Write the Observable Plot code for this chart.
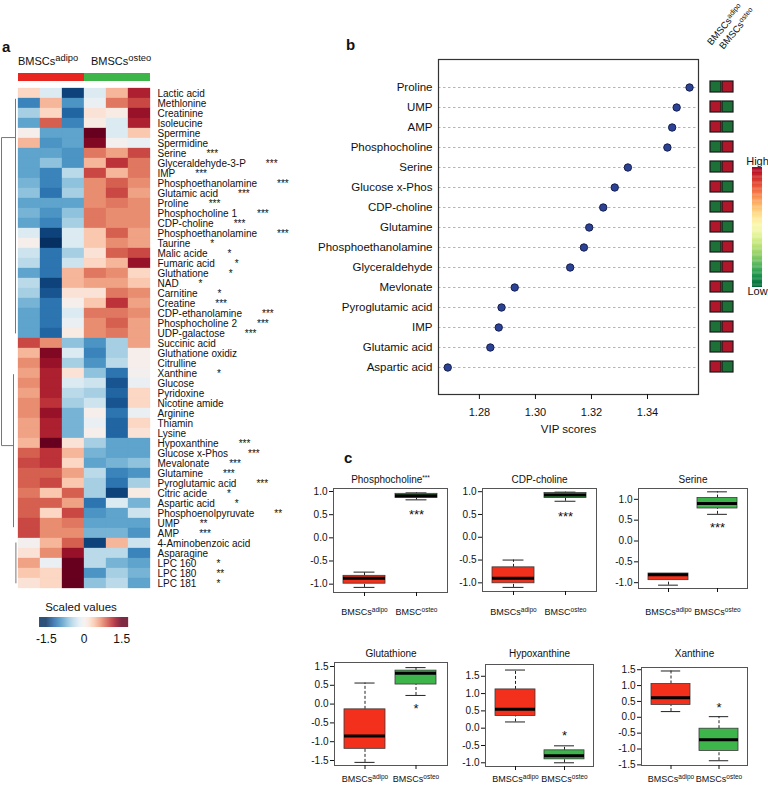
<!DOCTYPE html>
<html><head><meta charset="utf-8">
<script src="https://cdn.jsdelivr.net/npm/d3@7"></script>
<script src="https://cdn.jsdelivr.net/npm/@observablehq/plot@0.6"></script>
<style>
body{margin:0;background:#fff;font-family:"Liberation Sans",Arial,Helvetica,sans-serif;color:#111;}
#root{position:relative;width:768px;height:785px;overflow:hidden;background:#fff;}
svg{overflow:visible;background:transparent !important;}
.sup{font-size:0.85em;position:relative;top:-0.45em;line-height:0;}
.sup2{font-size:0.75em;position:relative;top:-0.45em;line-height:0;}
</style></head><body><div id="root"></div>
<script>
// ---------- DATA ----------
const metabolites = ["Lactic acid","Methlonine","Creatinine","Isoleucine","Spermine","Spermidine","Serine","Glyceraldehyde-3-P","IMP","Phosphoethanolamine","Glutamic acid","Proline","Phosphocholine 1","CDP-choline","Phosphoethanolamine","Taurine","Malic acide","Fumaric acid","Gluthatione","NAD","Carnitine","Creatine","CDP-ethanolamine","Phosphocholine 2","UDP-galactose","Succinic acid","Gluthatione oxidiz","Citrulline","Xanthine","Glucose","Pyridoxine","Nicotine amide","Arginine","Thiamin","Lysine","Hypoxanthine","Glucose x-Phos","Mevalonate","Glutamine","Pyroglutamic acid","Citric acide","Aspartic acid","Phosphoenolpyruvate","UMP","AMP","4-Aminobenzoic acid","Asparagine","LPC 160","LPC 180","LPC 181"];
const significance = ["","","","","","","***","***","***","***","***","***","***","***","***","*","*","*","*","*","*","***","***","***","***","","","","*","","","","","","","***","***","***","***","***","*","*","**","**","***","","","*","**","*"];
const sampleColumns = ["adipo 1","adipo 2","adipo 3","osteo 1","osteo 2","osteo 3"];
const sampleGroups = ["adipo","adipo","adipo","osteo","osteo","osteo"];
const adipo1 = [0.3,-1.0,-0.5,-0.8,0.05,0.5,-0.8,-0.8,-0.8,-0.7,-0.6,-0.8,-0.7,-0.8,-0.2,0.05,-0.3,-0.4,-0.8,-0.4,-0.5,-0.7,-0.8,-0.8,-0.8,1.0,0.5,0.7,0.6,0.7,0.6,0.7,0.7,0.6,0.6,0.5,0.9,1.0,0.9,0.9,0.8,0.9,0.9,1.0,1.0,0.0,0.2,0.6,0.4,0.2];
const adipo2 = [-0.2,0.5,0.3,0.9,-0.8,-0.9,-0.8,-0.6,-1.0,-1.0,-1.1,-0.8,-0.9,-1.0,-1.4,-1.5,-1.1,-1.1,-1.1,-1.4,-1.3,-1.1,-1.1,-1.1,-1.2,0.7,1.4,1.3,1.2,1.2,1.2,1.1,1.3,1.2,1.2,1.5,1.1,1.1,0.9,1.0,0.4,0.9,0.3,0.7,0.7,0.5,0.7,-0.1,0.3,0.3];
const adipo3 = [-1.4,-0.9,-1.2,-1.0,-0.8,-0.8,-0.9,-0.9,-0.4,-0.6,-0.5,-0.8,-0.6,-0.5,-0.2,-0.2,-0.5,-0.3,0.5,0.5,0.2,0.05,-0.2,-0.1,0.1,-0.6,-0.2,-0.5,0.2,-0.2,-0.4,-0.5,-0.7,-0.7,-0.7,0.2,0.5,0.3,0.6,0.4,0.9,0.6,1.0,0.8,0.7,0.9,1.3,1.5,1.5,1.5];
const osteo1 = [-0.2,-0.1,0.2,0.1,1.5,1.4,0.8,0.5,1.0,0.7,0.7,0.7,0.8,0.8,0.4,0.4,0.2,0.3,0.8,0.6,0.2,0.4,0.8,0.7,0.7,-0.9,-1.0,-0.9,-0.6,-0.3,-0.5,-0.3,0.05,-0.1,0.05,-0.5,-0.7,-0.8,-0.4,-0.5,-0.5,-1.1,-0.9,-0.8,-0.7,-1.4,-0.4,-0.4,-0.9,-0.6];
const osteo2 = [0.5,0.8,0.1,-0.2,-0.2,0.0,0.6,1.1,0.5,0.9,1.0,0.8,0.7,0.7,0.9,0.7,0.9,0.5,0.7,0.6,0.8,1.1,0.8,0.9,0.8,-0.5,-0.5,-0.4,-1.1,-1.3,-1.2,-1.3,-1.1,-1.2,-1.2,-0.8,-0.8,-0.7,-1.0,-1.1,-1.4,-0.2,-0.8,-0.8,-0.7,0.5,-0.4,-0.7,-0.5,-0.4];
const osteo3 = [1.2,1.0,1.3,1.2,0.4,-0.1,1.0,0.8,0.8,0.7,0.6,0.7,0.7,0.7,0.6,0.6,1.0,1.3,0.3,0.4,0.7,0.6,0.7,0.6,0.6,0.6,0.05,0.05,0.0,-0.1,0.3,0.3,-0.1,0.3,0.2,-0.8,-0.8,-0.6,-0.9,-0.5,0.1,-0.7,-0.3,-0.8,-0.9,-0.3,-1.0,-0.8,-0.7,-0.8];
// dendrogram segments: [height1, row1, height2, row2]
const dendrogramLinks = [[1,5.8,1,36],[1,5.8,0.125,5.8],[1,36,0.25,36],[0.125,2,0.125,25],[0.25,29,0.25,44],[0.1,45.5,0.1,49.5]];
const legendTicks = [-1.5, 0, 1.5];

const vipNames = ["Proline","UMP","AMP","Phosphocholine","Serine","Glucose x-Phos","CDP-choline","Glutamine","Phosphoethanolamine","Glyceraldehyde","Mevlonate","Pyroglutamic acid","IMP","Glutamic acid","Aspartic acid"];
const vipScores = [1.355,1.3504,1.3488,1.3471,1.333,1.3283,1.3242,1.3192,1.3173,1.3124,1.2926,1.2879,1.2869,1.2839,1.2687];
const vipAdipoLevel = ["Low","High","High","Low","Low","High","Low","High","Low","Low","High","High","Low","Low","High"];
const vipOsteoLevel = ["High","Low","Low","High","High","Low","High","Low","High","High","Low","Low","High","High","Low"];
const vipTicks = [1.28,1.30,1.32,1.34];

// box stats: [lower whisker, Q1, median, Q3, upper whisker]
const phosphocholineAdipo = [-1.07,-0.99,-0.87,-0.82,-0.74];
const phosphocholineOsteo = [0.82,0.86,0.91,0.95,0.97];
const cdpCholineAdipo = [-1.10,-1.01,-0.90,-0.66,-0.50];
const cdpCholineOsteo = [0.79,0.86,0.93,0.97,0.99];
const serineAdipo = [-1.06,-0.94,-0.81,-0.78,-0.78];
const serineOsteo = [0.64,0.78,0.90,1.03,1.18];
const glutathioneAdipo = [-1.55,-1.19,-0.85,-0.14,0.56];
const glutathioneOsteo = [0.23,0.52,0.82,0.89,0.97];
const hypoxanthineAdipo = [0.18,0.35,0.55,1.12,1.68];
const hypoxanthineOsteo = [-1.0,-0.9,-0.8,-0.64,-0.51];
const xanthineAdipo = [0.18,0.39,0.62,1.05,1.46];
const xanthineOsteo = [-1.37,-1.06,-0.71,-0.36,0.02];
const boxTicks = [-1,-0.5,0,0.5,1];
const hypoTicks = [-1,-0.5,0,0.5,1,1.5];
const xanthineTicks = [-1.5,-1,-0.5,0,0.5,1,1.5];
const glutathioneTicks = [1,0.5,0,-0.5,-1,-1.5];
const glutathioneTickLabels = ["1.5","0.5","0.0","-0.5","-1.0","-1.5"];

// ---------- HELPERS ----------
const FONT = "'Liberation Sans', Arial, Helvetica, sans-serif";
const root = document.getElementById("root");
function place(node, left, top){ node.style.position="absolute"; node.style.left=left+"px"; node.style.top=top+"px"; root.appendChild(node); return node; }
function html(str, left, top, css){ const d=document.createElement("div"); d.style.cssText=(css||"")+";white-space:nowrap;"; d.innerHTML=str; return place(d,left,top); }
function supify(svg, supSize){
  const ns="http://www.w3.org/2000/svg";
  svg.querySelectorAll("text").forEach(t=>{
    const targets = t.querySelectorAll("tspan").length ? Array.from(t.querySelectorAll("tspan")) : [t];
    targets.forEach(el=>{
      if (el.childElementCount) return;
      const s = el.textContent; if (!s.includes("^")) return;
      const [base, sup] = s.split("^");
      el.textContent = "";
      const a=document.createElementNS(ns,"tspan"); a.textContent=base;
      const b=document.createElementNS(ns,"tspan"); b.textContent=sup; b.setAttribute("dy","-0.45em"); b.setAttribute("font-size",supSize);
      el.append(a,b);
    });
  });
}
const baseStyle = (fs)=>({background:"transparent", fontFamily:FONT, fontSize:fs, color:"#111", overflow:"visible"});
const heatColor = {type:"linear", scheme:"RdBu", reverse:true, domain:[-1.5,1.5], clamp:true};

// ---------- PANEL A ----------
html("a", 2, 39, "font-size:15px;line-height:15px;font-weight:bold;");
html('BMSCs<span class="sup">adipo</span>', 18, 56, "font-size:11px;line-height:11px;");
html('BMSCs<span class="sup">osteo</span>', 91, 56, "font-size:11px;line-height:11px;");

place(Plot.plot({
  width:300, height:8, marginLeft:17, marginRight:150, marginTop:0, marginBottom:0,
  x:{type:"band", domain:sampleColumns, padding:0, axis:null},
  color:{domain:["adipo","osteo"], range:["#e8251f","#3db549"]},
  style:baseStyle("10px"),
  marks:[Plot.cell(sampleColumns.map((s,i)=>({sample:s, group:sampleGroups[i]})), {x:"sample", fill:"group", shapeRendering:"crispEdges"})]
}), 0, 73);

const heatColumns = [adipo1, adipo2, adipo3, osteo1, osteo2, osteo3];
const heatCells = [];
metabolites.forEach((name,i)=>sampleColumns.forEach((s,j)=>heatCells.push({row:i, sample:s, value:heatColumns[j][i]})));
const heatLabels = metabolites.map((name,i)=>({row:i, label: significance[i] ? name+"\u2003\u2003"+significance[i] : name}));

place(Plot.plot({
  width:300, height:520, marginLeft:17, marginRight:150, marginTop:3, marginBottom:7,
  x:{type:"band", domain:sampleColumns, padding:0, axis:null},
  y:{type:"band", domain:d3.range(metabolites.length), padding:0, axis:null},
  color:heatColor,
  style:baseStyle("10px"),
  marks:[
    Plot.cell(heatCells, {x:"sample", y:"row", fill:"value", stroke:"value", strokeWidth:0.3}),
    Plot.text(heatLabels, {y:"row", text:"label", frameAnchor:"right", dx:7, textAnchor:"start", fill:"#111"})
  ]
}), 0, 80);

place(Plot.plot({
  width:17, height:520, marginLeft:1, marginRight:0, marginTop:3, marginBottom:7,
  x:{domain:[1,0], axis:null},
  y:{domain:[0.5,50.5], reverse:true, axis:null},
  style:baseStyle("10px"),
  marks:[Plot.link(dendrogramLinks, {x1:d=>d[0], y1:d=>d[1], x2:d=>d[2], y2:d=>d[3], stroke:"#777", strokeWidth:1})]
}), 0, 80);

html("Scaled values", 0, 602, "width:162px;text-align:center;font-size:11.5px;line-height:11.5px;");
const ramp = d3.range(-1.77, 1.77, 0.02);
place(Plot.plot({
  width:170, height:40, marginLeft:39, marginRight:42, marginTop:5, marginBottom:25,
  x:{domain:[-1.77,1.77]},
  color:heatColor,
  style:baseStyle("12px"),
  marks:[
    Plot.rect(ramp, {x1:d=>d, x2:d=>d+0.025, fill:d=>d}),
    Plot.axisX(legendTicks, {tickSize:0, tickPadding:7, tickFormat:d=>d===0?"0":d.toFixed(1), fontSize:12, label:null})
  ]
}), 0, 612);

// ---------- PANEL B ----------
html("b", 346, 37, "font-size:15px;line-height:15px;font-weight:bold;");
const vipData = vipNames.map((n,i)=>({name:n, vip:vipScores[i]}));
place(Plot.plot({
  width:410, height:400, marginLeft:138, marginRight:12, marginTop:19, marginBottom:46,
  x:{domain:[1.2654,1.3582]},
  y:{type:"point", domain:vipNames, padding:1},
  style:baseStyle("11px"),
  marks:[
    Plot.ruleY(vipNames, {y:d=>d, stroke:"#b5b5b5", strokeDasharray:"2.5,2.5"}),
    Plot.dot(vipData, {x:"vip", y:"name", r:3.7, fill:"#2c4296", stroke:"#15204f", strokeWidth:1}),
    Plot.frame({stroke:"#333", strokeWidth:1.2}),
    Plot.axisX(vipTicks, {tickSize:5, tickPadding:9, tickFormat:d=>d.toFixed(2), fontSize:11, label:null}),
    Plot.axisY({tickSize:0, tickPadding:6, fontSize:11.5, label:null}),
    Plot.text(["VIP scores"], {frameAnchor:"bottom", dy:38, fontSize:11.5})
  ]
}), 300, 40);

const squares = vipNames.flatMap((n,i)=>[{name:n, group:"adipo", level:vipAdipoLevel[i]},{name:n, group:"osteo", level:vipOsteoLevel[i]}]);
place(Plot.plot({
  width:68, height:400, marginLeft:9, marginRight:35, marginTop:19, marginBottom:46,
  x:{type:"band", domain:["adipo","osteo"], paddingInner:0.1, paddingOuter:0, axis:null},
  y:{type:"band", domain:vipNames, paddingInner:0.47, paddingOuter:0.735, axis:null},
  color:{domain:["High","Low"], range:["#b0172b","#1d7038"]},
  style:baseStyle("10px"),
  marks:[Plot.cell(squares, {x:"group", y:"name", fill:"level", stroke:"#1a1a1a", strokeWidth:1.2})]
}), 700, 40);

html('BMSCs<span class="sup2">adipo</span>', 713, 37, "font-size:9.5px;line-height:10px;transform:rotate(-50deg);transform-origin:0 100%;");
html('BMSCs<span class="sup2">osteo</span>', 725, 41, "font-size:9.5px;line-height:10px;transform:rotate(-50deg);transform-origin:0 100%;");

const gradStops = d3.range(0, 1.0001, 0.01);
place(Plot.plot({
  width:24, height:150, marginLeft:7, marginRight:7, marginTop:17, marginBottom:13,
  y:{domain:[0,1], axis:null},
  color:{type:"linear", scheme:"RdYlGn", domain:[0,1], reverse:true},
  style:baseStyle("11px"),
  marks:[
    Plot.rect(gradStops, {y1:d=>d, y2:d=>Math.min(1,d+0.012), fill:d=>d}),
    Plot.text(["High"], {frameAnchor:"top", dy:-10, fontSize:11}),
    Plot.text(["Low"], {frameAnchor:"bottom", dy:7, fontSize:11})
  ]
}), 745, 150);

// ---------- PANEL C ----------
html("c", 344, 450, "font-size:15px;line-height:15px;font-weight:bold;");
function boxPanel(cfg){
  const {title, groups, adipo, osteo, yDomain, ticks, tickLabels, starText, starY, left, top, W, H, titleY, labelY} = cfg;
  const boxes = [{g:groups[0], s:adipo}, {g:groups[1], s:osteo}];
  const bw = W*0.81/2.19;
  const pad = labelY - (top+H) - 4 - 3.5;
  const fmt = tickLabels ? (d=>tickLabels[ticks.indexOf(d)]) : (d=>d.toFixed(1));
  const svg = Plot.plot({
    width:W+45, height:H+50, marginLeft:40, marginRight:5, marginTop:25, marginBottom:25,
    x:{type:"band", domain:groups, padding:0.19},
    y:{domain:yDomain},
    color:{domain:groups, range:["#f3301b","#3db54a"]},
    style:baseStyle("10px"),
    marks:[
      Plot.ruleX(boxes, {x:"g", y1:d=>d.s[0], y2:d=>d.s[1], stroke:"#222", strokeDasharray:"3,2"}),
      Plot.ruleX(boxes, {x:"g", y1:d=>d.s[3], y2:d=>d.s[4], stroke:"#222", strokeDasharray:"3,2"}),
      Plot.tickY(boxes, {x:"g", y:d=>d.s[0], stroke:"#222", insetLeft:bw/4, insetRight:bw/4}),
      Plot.tickY(boxes, {x:"g", y:d=>d.s[4], stroke:"#222", insetLeft:bw/4, insetRight:bw/4}),
      Plot.barY(boxes, {x:"g", y1:d=>d.s[1], y2:d=>d.s[3], fill:"g", stroke:"#3a3a3a", strokeWidth:0.8}),
      Plot.tickY(boxes, {x:"g", y:d=>d.s[2], stroke:"#000", strokeWidth:3}),
      Plot.text([{g:groups[1], y:starY, t:starText}], {x:"g", y:"y", text:"t", fontSize:13, dy:4}),
      Plot.frame({stroke:"#555"}),
      Plot.axisY(ticks, {tickSize:4, tickPadding:2, tickFormat:fmt, fontSize:10, label:null}),
      Plot.axisX({tickSize:4, tickPadding:pad, fontSize:9, label:null}),
      Plot.text([title], {frameAnchor:"top", dy:titleY-top, fontSize:10})
    ]
  });
  supify(svg, "6.5px");
  place(svg, left-40, top-25);
}
boxPanel({title:"Phosphocholine^***", groups:["BMSCs^adipo","BMSC^osteo"], adipo:phosphocholineAdipo, osteo:phosphocholineOsteo, yDomain:[-1.18,1.065], ticks:boxTicks, starText:"***", starY:0.59, left:333, top:488, W:114, H:104, titleY:475, labelY:612});
boxPanel({title:"CDP-choline", groups:["BMSCs^adipo","BMSC^osteo"], adipo:cdpCholineAdipo, osteo:cdpCholineOsteo, yDomain:[-1.19,1.07], ticks:boxTicks, starText:"***", starY:0.53, left:482, top:488, W:114, H:103, titleY:475, labelY:612});
boxPanel({title:"Serine", groups:["BMSCs^adipo","BMSCs^osteo"], adipo:serineAdipo, osteo:serineOsteo, yDomain:[-1.14,1.26], ticks:boxTicks, starText:"***", starY:0.42, left:638, top:488, W:109, H:100, titleY:475, labelY:612});
boxPanel({title:"Glutathione", groups:["BMSCs^adipo","BMSCs^osteo"], adipo:glutathioneAdipo, osteo:glutathioneOsteo, yDomain:[-1.633,1.106], ticks:glutathioneTicks, tickLabels:glutathioneTickLabels, starText:"*", starY:-0.02, left:334, top:662, W:113, H:103, titleY:649, labelY:779});
boxPanel({title:"Hypoxanthine", groups:["BMSCs^adipo","BMSCs^osteo"], adipo:hypoxanthineAdipo, osteo:hypoxanthineOsteo, yDomain:[-1.107,1.84], ticks:hypoTicks, starText:"*", starY:-0.11, left:485, top:664, W:108, H:102, titleY:649, labelY:779});
boxPanel({title:"Xanthine", groups:["BMSCs^adipo","BMSCs^osteo"], adipo:xanthineAdipo, osteo:xanthineOsteo, yDomain:[-1.52,1.57], ticks:xanthineTicks, starText:"*", starY:0.42, left:641, top:667, W:106, H:98, titleY:649, labelY:779});
</script></body></html>
